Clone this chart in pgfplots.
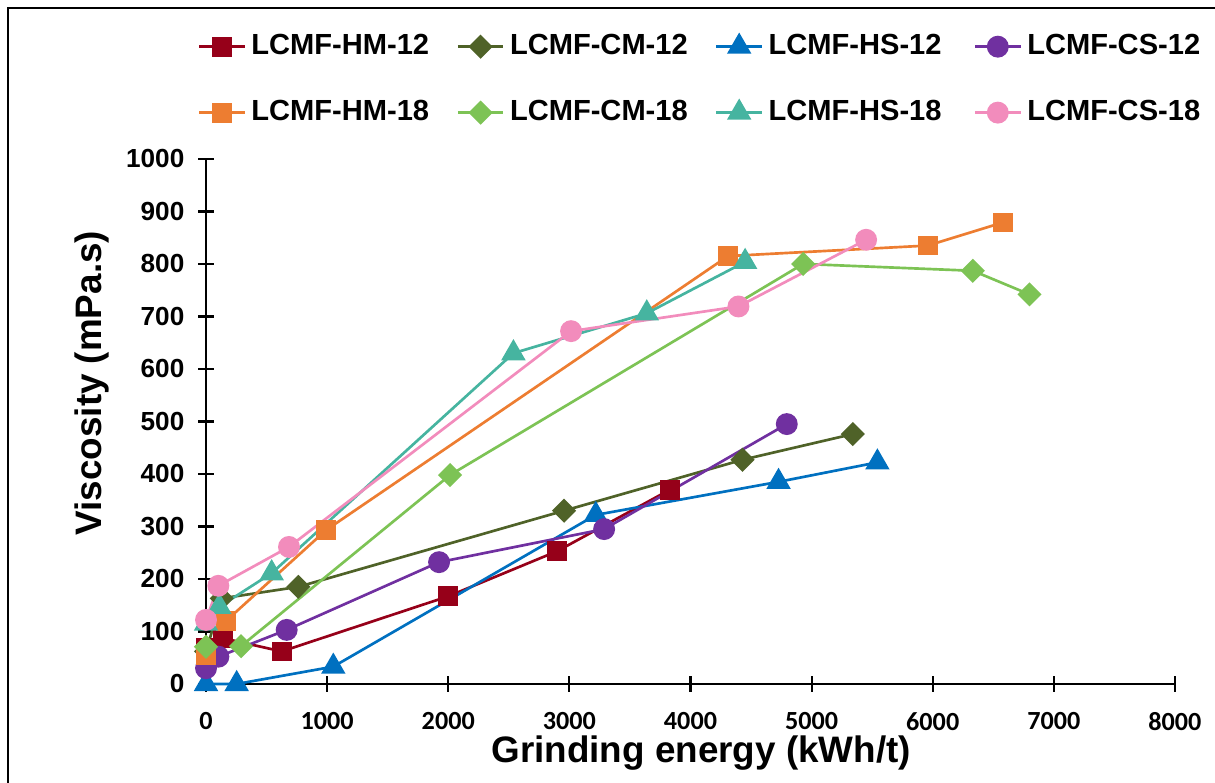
\documentclass[border=0pt]{standalone}
\usepackage{fontspec}
\setmainfont{Liberation Sans}
\newfontfamily\carlito{Carlito}
\usepackage{pgfplots}
\pgfplotsset{compat=1.18}
\definecolor{hmA}{RGB}{150,0,25}
\definecolor{cmA}{RGB}{79,98,40}
\definecolor{hsA}{RGB}{0,112,192}
\definecolor{csA}{RGB}{112,48,160}
\definecolor{hmB}{RGB}{237,125,49}
\definecolor{cmB}{RGB}{125,195,85}
\definecolor{hsB}{RGB}{70,180,160}
\definecolor{csB}{RGB}{242,140,188}
\begin{document}
\begin{tikzpicture}
\begin{axis}[
  scale only axis, width=12.760cm, height=6.914cm,
  xmin=0, xmax=8000, ymin=0, ymax=1000,
  xtick={0,1000,...,8000}, ytick={0,100,...,1000},
  axis x line*=bottom, axis y line*=left,
  axis line style={line width=0.8pt, black},
  tick style={line width=0.8pt, black},
  tick align=center, major tick length=6pt,
  clip=false,
  scaled ticks=false,
  /pgf/number format/assume math mode=true,
  /pgf/number format/1000 sep={},
  xticklabel style={font=\carlito\bfseries\fontsize{9.8}{11}\selectfont, anchor=center, yshift=-11pt},
  yticklabel style={font=\bfseries\fontsize{9.8}{11}\selectfont, xshift=-1.6pt},
  xlabel={Grinding energy (kWh/t)}, ylabel={Viscosity (mPa.s)},
  label style={font=\bfseries\fontsize{13.8}{16}\selectfont},
  xlabel style={at={(axis description cs:0.511,-0.1505)}, anchor=base},
  ylabel style={at={(axis description cs:-0.118,0.573)}, anchor=center},
  legend columns=4,
  legend cell align=left,
  legend style={draw=none, fill=none, at={(-0.009,1.151)}, anchor=west, inner sep=0pt,
    row sep=11.6pt, font=\bfseries\fontsize{10.9}{12}\selectfont,
    nodes={text width=2.63cm, align=left}},
  every axis plot/.append style={line width=1pt},
]
\addplot[color=hmA, mark=square*, mark size=3.2pt] coordinates {(0,68) (143,87) (625,62) (2000,167) (2900,253) (3830,370)};
\addlegendentry{LCMF-HM-12}
\addplot[color=cmA, mark=square*, mark size=2.7pt, mark options={rotate=45}] coordinates {(0,62) (130,163) (762,185) (2956,330) (4429,427) (5340,476)};
\addlegendentry{LCMF-CM-12}
\addplot[color=hsA, mark=triangle*, mark size=4.3pt] coordinates {(0,0) (253,0) (1051,33) (3218,322) (4727,385) (5543,422)};
\addlegendentry{LCMF-HS-12}
\addplot[color=csA, mark=*, mark size=3.6pt] coordinates {(0,30) (102,52) (666,103) (1924,232) (3287,295) (4795,495)};
\addlegendentry{LCMF-CS-12}
\addplot[color=hmB, mark=square*, mark size=3.2pt] coordinates {(0,55) (165,120) (991,293) (4310,815) (5959,835) (6579,879)};
\addlegendentry{LCMF-HM-18}
\addplot[color=cmB, mark=square*, mark size=2.7pt, mark options={rotate=45}] coordinates {(0,71) (289,72) (2015,398) (4930,800) (6331,787) (6799,742)};
\addlegendentry{LCMF-CM-18}
\addplot[color=hsB, mark=triangle*, mark size=4.3pt] coordinates {(0,115) (110,147) (542,211) (2538,630) (3639,706) (4451,804)};
\addlegendentry{LCMF-HS-18}
\addplot[color=csB, mark=*, mark size=3.6pt] coordinates {(0,122) (102,187) (685,261) (3014,672) (4396,719) (5450,846)};
\addlegendentry{LCMF-CS-18}
\end{axis}
\draw[line width=0.9pt] (-2.607,-1.5) -- (-2.607,8.902) -- (13.5,8.902);
\pgfresetboundingbox
\path[use as bounding box] (-2.713,-1.304) rectangle (13.287,9.007);
\end{tikzpicture}
\end{document}
